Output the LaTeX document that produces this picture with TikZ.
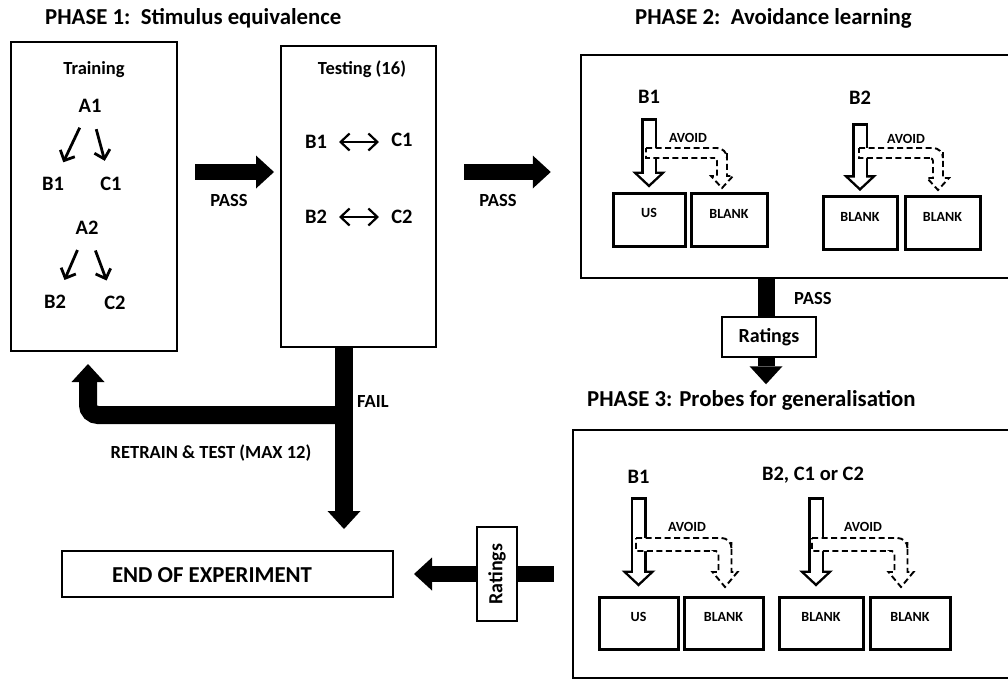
\documentclass[tikz,border=0pt]{standalone}
\usepackage{fontspec}
\setmainfont{Carlito}
\usetikzlibrary{positioning,arrows.meta}

\begin{document}
\begin{tikzpicture}[x=1pt,y=-1pt,>={Straight Barb[length=8pt,width=16pt]}]
  \tikzstyle{stagebox}=[draw,line width=2pt,inner sep=0pt]
  \tikzstyle{phasebox}=[draw,line width=2.5pt,inner sep=0pt]
  \tikzstyle{stimbox}=[draw,line width=3pt,inner sep=0pt,minimum width=75pt,
    minimum height=53pt,text height=9pt,text depth=13pt,
    font=\fontsize{14}{16}\selectfont\bfseries]
  \tikzstyle{ratebox}=[draw,fill=white,line width=1.3pt,inner sep=0pt,
    minimum width=94pt,minimum height=40pt,font=\fontsize{20}{24}\selectfont\bfseries]
  \tikzstyle{phasetitle}=[anchor=west,inner sep=0pt,font=\fontsize{22.8}{26}\selectfont\bfseries]
  \tikzstyle{stim}=[inner sep=2pt,font=\fontsize{20.5}{24}\selectfont\bfseries]
  \tikzstyle{flowtxt}=[inner sep=0pt,font=\fontsize{18.5}{22}\selectfont\bfseries]
  \tikzstyle{avoidtxt}=[inner sep=0pt,font=\fontsize{14}{16}\selectfont\bfseries]
  \tikzstyle{block}=[line width=16pt,-{Triangle[length=18pt,width=33pt,line width=0pt]}]
  \tikzstyle{hollow}=[line width=16pt,-{Triangle[length=16pt,width=34pt,line width=0pt]},
    postaction={draw=white,line width=11pt,shorten <=2.5pt,shorten >=3.4pt,
      -{Triangle[length=10pt,width=21.5pt,line width=0pt]}}]
  \tikzstyle{avoid}=[draw,fill=white,line width=1.9pt,dash pattern=on 6pt off 3.5pt]
  \tikzstyle{rel}=[->,line width=2.8pt,shorten <=24pt,shorten >=24pt]
  \tikzstyle{equiv}=[{Straight Barb[length=9pt,width=17pt]}-{Straight Barb[length=9pt,width=17pt]},
    line width=2.2pt,shorten <=23pt,shorten >=23pt]

  \useasboundingbox (0,0) rectangle (1008,681);

  % phase 1
  \node[phasetitle] (t1) at (45,18) {PHASE 1:\ \ Stimulus equivalence};
  \node[stagebox,minimum width=166pt,minimum height=309pt] (train) at (94,196.5) {};
  \node[flowtxt] (traintxt) at (94,70) {Training};
  \node[stim] (a1) at (90,106) {A1};
  \node[stim] (b1) at (53,184) {B1};
  \node[stim] (c1) at (111,184) {C1};
  \node[stim] (a2) at (87,228) {A2};
  \node[stim] (b2) at (55,302) {B2};
  \node[stim] (c2) at (115,303) {C2};
  \draw[rel] (a1.center) -- (b1.center);
  \draw[rel] (a1.center) -- (c1.center);
  \draw[rel] (a2.center) -- (b2.center);
  \draw[rel] (a2.center) -- (c2.center);

  \node[stagebox,minimum width=155pt,minimum height=301pt] (test) at (358.5,196.5) {};
  \node[flowtxt] (testtxt) at (362,69) {Testing (16)};
  \node[stim] (tb1) at (316,142) {B1};
  \node[stim] (tc1) at (402,140) {C1};
  \node[stim] (tb2) at (316,217) {B2};
  \node[stim] (tc2) at (402,217) {C2};
  \draw[equiv] (tb1.center) -- (tb1.center -| tc1.center);
  \draw[equiv] (tb2.center) -- (tb2.center -| tc2.center);

  \draw[block] ([xshift=17pt,yshift=24.5pt]train.east) -- ([xshift=-6pt,yshift=24.5pt]test.west);
  \node[flowtxt] (pass1) at (229,200) {PASS};

  % phase 2
  \node[phasetitle] (t2) at (635,18) {PHASE 2:\ \ Avoidance learning};
  \node[phasebox,minimum width=439pt,minimum height=223pt] (p2) at (800.5,166.5) {};
  \draw[block] ([xshift=27pt,yshift=24.5pt]test.east) -- ([xshift=-29pt,yshift=-5.5pt]p2.west);
  \node[flowtxt] (pass2) at (498,200) {PASS};
  \node[stim] (p2b1) at (649,97) {B1};
  \node[stim] (p2b2) at (860,98) {B2};
  \node[stimbox,minimum width=72pt] (p2us) at (649,219.5) {US};
  \node[stimbox,minimum width=76pt] (p2k1) at (729,220) {BLANK};
  \node[stimbox,minimum width=74pt] (p2k2) at (860,223) {BLANK};
  \node[stimbox] (p2k3) at (942.5,223) {BLANK};
  \draw[hollow] ([yshift=-21pt]p2b1.center) -- ([yshift=4pt]p2us.north);
  \draw[hollow] ([yshift=-25pt]p2b2.center) -- ([yshift=4pt]p2k2.north);
  \node[avoidtxt] (av1) at (688,138) {AVOID};
  \node[avoidtxt] (av2) at (906,139) {AVOID};

  \draw[block,line width=17pt] ([xshift=-34.5pt]p2.south) -- ([xshift=-34.5pt,yshift=-105pt]p2.south);
  \node[ratebox] (rate1) at (769,337) {Ratings};
  \node[flowtxt,anchor=west] (pass3) at (794,298) {PASS};

  % phase 3
  \node[phasetitle] (t3) at (587,400) {PHASE 3: Probes for generalisation};
  \node[phasebox,minimum width=447pt,minimum height=248pt] (p3) at (796.5,554) {};
  \node[stim] (p3b1) at (638.5,477) {B1};
  \node[stim] (p3bx) at (813,475) {B2, C1 or C2};
  \node[stimbox,minimum width=79pt,minimum height=52pt] (p3us) at (638.5,623) {US};
  \node[stimbox,minimum width=79pt,minimum height=52pt] (p3k1) at (723.5,623) {BLANK};
  \node[stimbox,minimum width=84pt,minimum height=52pt] (p3k2) at (821,623) {BLANK};
  \node[stimbox,minimum width=80pt,minimum height=52pt] (p3k3) at (910,623) {BLANK};
  \draw[hollow] ([yshift=-20pt]p3b1.center) -- ([yshift=9pt]p3us.north);
  \draw[hollow] ([xshift=3pt,yshift=-22pt]p3bx.center) -- ([xshift=-5pt,yshift=9pt]p3k2.north);
  \node[avoidtxt] (av3) at (687,527) {AVOID};
  \node[avoidtxt] (av4) at (863,527) {AVOID};

  % dashed avoid arrows
  \foreach \sx/\ty/\w/\vx/\tipy in {646/148/10/722/188, 859/148/10/938/190,
      636/538/13/725/587, 812/538/13/901/587}
    \draw[avoid] (\sx,\ty) [rounded corners=10pt] -- (\vx+\w/2,\ty)
      -- (\vx+\w/2,\ty+14) [sharp corners] -- (\vx+\w/2,\tipy-\w-2)
      -- (\vx+\w/2+6,\tipy-\w-2) -- (\vx,\tipy) -- (\vx-\w/2-6,\tipy-\w-2)
      -- (\vx-\w/2,\tipy-\w-2) -- (\vx-\w/2,\ty+\w+5) [rounded corners=3pt]
      -- (\vx-\w/2,\ty+\w) -- (\vx-\w/2-5,\ty+\w) [sharp corners]
      -- (\sx,\ty+\w) -- cycle;

  % fail / retrain
  \coordinate (failtop) at ([xshift=-14.5pt]test.south);
  \coordinate (failsplit) at ([yshift=-67pt]failtop);
  \coordinate (failtip) at ([yshift=-181pt]failtop);
  \coordinate (retip) at ([xshift=-6pt,yshift=-12pt]train.south);
  \draw[block,line width=18pt,rounded corners=10pt] (failsplit) -| (retip);
  \draw[block,line width=18pt] (failtop) -- (failtip);
  \node[flowtxt,anchor=west] (fail) at (357,401) {FAIL};
  \node[flowtxt] (retrain) at (211,453) {RETRAIN \& TEST (MAX 12)};

  \node[stagebox,minimum width=331pt,minimum height=46pt] (endbox) at (227.5,574) {};
  \node[phasetitle,anchor=center] (endtxt) at (212,575) {END OF EXPERIMENT};
  \draw[block] ([xshift=-18pt,yshift=-20pt]p3.west) -- ([xshift=20pt]endbox.east);
  \node[ratebox,rotate=90] (rate2) at (497,574) {Ratings};
\end{tikzpicture}
\end{document}
